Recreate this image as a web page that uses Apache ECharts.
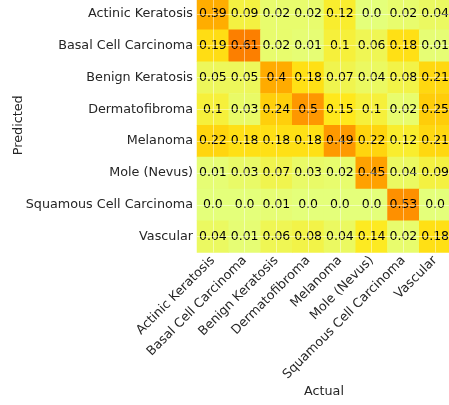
<!DOCTYPE html>
<html>
<head>
<meta charset="utf-8">
<script src="https://cdn.jsdelivr.net/npm/echarts@6/dist/echarts.min.js"></script>
<style>
html,body{margin:0;padding:0;background:#fff;}
#c{width:449px;height:405px;}
</style>
</head>
<body>
<div id="c"></div>
<script>
const classes = ["Actinic Keratosis","Basal Cell Carcinoma","Benign Keratosis","Dermatofibroma","Melanoma","Mole (Nevus)","Squamous Cell Carcinoma","Vascular"];
const rowActinic   = [0.39,0.09,0.02,0.02,0.12,0.0,0.02,0.04];
const rowBasal     = [0.19,0.61,0.02,0.01,0.1,0.06,0.18,0.01];
const rowBenign    = [0.05,0.05,0.4,0.18,0.07,0.04,0.08,0.21];
const rowDermato   = [0.1,0.03,0.24,0.5,0.15,0.1,0.02,0.25];
const rowMelanoma  = [0.22,0.18,0.18,0.18,0.49,0.22,0.12,0.21];
const rowMole      = [0.01,0.03,0.07,0.03,0.02,0.45,0.04,0.09];
const rowSquamous  = [0.0,0.0,0.01,0.0,0.0,0.0,0.53,0.0];
const rowVascular  = [0.04,0.01,0.06,0.08,0.04,0.14,0.02,0.18];
const rows = [rowActinic,rowBasal,rowBenign,rowDermato,rowMelanoma,rowMole,rowSquamous,rowVascular];

const data = [];
rows.forEach((r, yi) => r.forEach((v, xi) => data.push([xi, yi, v])));

const font = 'DejaVu Sans';
const chart = echarts.init(document.getElementById('c'), null, {renderer:'canvas'});
chart.setOption({
  animation: false,
  backgroundColor: '#ffffff',
  grid: {left: 197, top: -2, width: 254, height: 254.5, containLabel: false, outerBoundsMode: 'none'},
  xAxis: {
    type: 'category', data: classes, z: 10,
    name: 'Actual', nameLocation: 'middle', nameGap: 133, nameMoveOverlap: false,
    nameTextStyle: {fontFamily: font, fontSize: 12.75, color: '#262626'},
    axisLine: {show: false}, axisTick: {show: false},
    axisLabel: {interval: 0, rotate: 45, margin: 6, fontFamily: font, fontSize: 12.75, color: '#262626'},
    splitLine: {show: true, alignWithLabel: true, lineStyle: {color: 'rgba(255,255,255,0.45)', width: 1}}
  },
  yAxis: {
    type: 'category', data: classes, inverse: true, z: 10,
    name: 'Predicted', nameLocation: 'middle', nameGap: 172, nameRotate: 90, nameMoveOverlap: false,
    nameTextStyle: {fontFamily: font, fontSize: 12.75, color: '#262626'},
    axisLine: {show: false}, axisTick: {show: false},
    axisLabel: {interval: 0, margin: 4, fontFamily: font, fontSize: 12.75, color: '#262626'},
    splitLine: {show: true, alignWithLabel: true, lineStyle: {color: 'rgba(255,255,255,0.45)', width: 1}}
  },
  visualMap: {
    show: false, type: 'continuous', min: 0, max: 0.61, dimension: 2,
    inRange: {color: ['#e4ff7a','#ffe81a','#ffbd00','#ffa000','#fc7f00']}
  },
  series: [{
    type: 'heatmap', data: data,
    label: {
      show: true, fontFamily: font, fontSize: 12.5, color: '#000',
      formatter: p => { const v = p.value[2]; return Number.isInteger(v) ? v.toFixed(1) : String(v); }
    },
    itemStyle: {borderWidth: 0},
    emphasis: {disabled: true}
  }]
});
</script>
</body>
</html>
